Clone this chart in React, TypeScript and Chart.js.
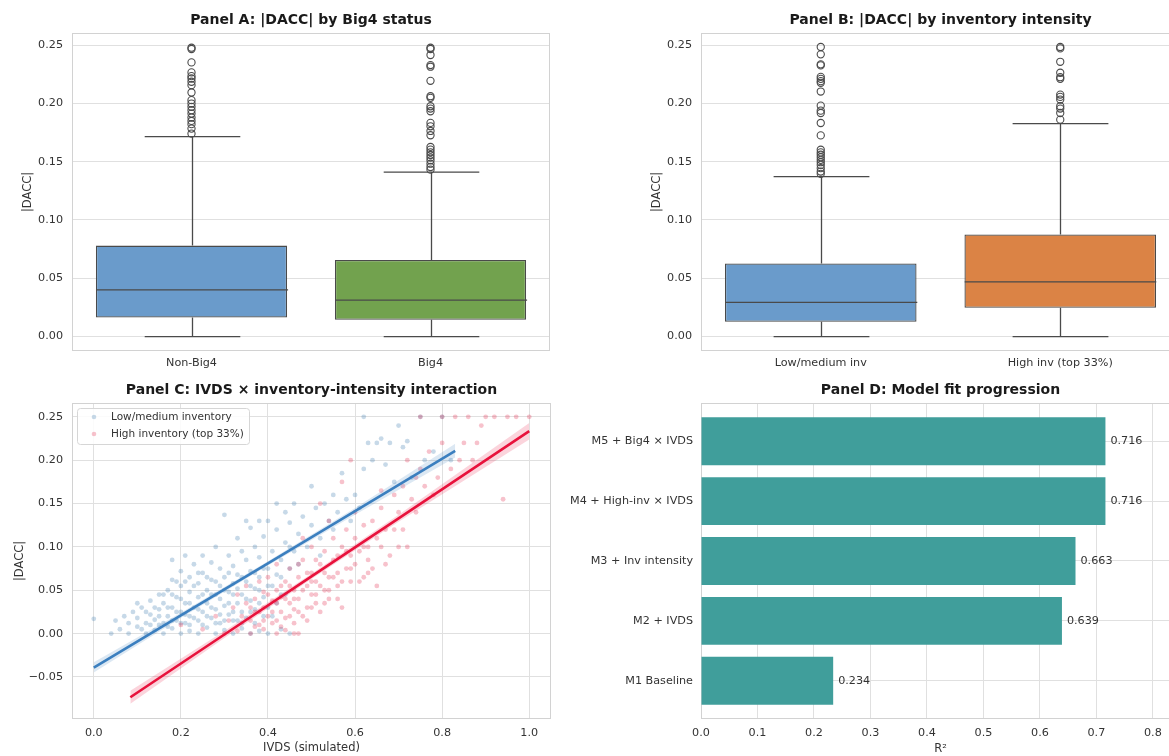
import React, { useEffect, useRef } from 'react';
import Chart from 'chart.js/auto';

const FONT = '"DejaVu Sans", "Liberation Sans", sans-serif';
const TEXT = '#333333';
const GRID = '#e0e0e0';
const SPINE = '#d2d2d2';
const BOX_LINE = '#4a4a4a';

Chart.defaults.font.family = FONT;
Chart.defaults.color = TEXT;

// ---------- Panel A: |DACC| by Big4 status ----------
const bigLabels = ['Non-Big4', 'Big4'];
const bigWhiskerLow = [0, 0];
const bigQ1 = [0.0163, 0.0143];
const bigMedian = [0.0401, 0.0312];
const bigQ3 = [0.078, 0.0657];
const bigWhiskerHigh = [0.1714, 0.141];
const bigColors = ['#6a9bcb', '#72a24e'];
const nonBig4Outliers = [0.2477, 0.2466, 0.2351, 0.2265, 0.2233, 0.2213, 0.2185, 0.2156, 0.2093, 0.2027, 0.1998, 0.197, 0.1941, 0.1912, 0.1878, 0.1849, 0.1821, 0.1783, 0.174];
const big4Outliers = [0.2477, 0.2466, 0.2414, 0.2328, 0.2314, 0.2193, 0.2061, 0.2047, 0.1975, 0.1955, 0.1932, 0.1832, 0.1803, 0.1763, 0.1726, 0.1626, 0.1603, 0.158, 0.1557, 0.1534, 0.1511, 0.1482, 0.1454, 0.1431];

// ---------- Panel B: |DACC| by inventory intensity ----------
const invLabels = ['Low/medium inv', 'High inv (top 33%)'];
const invWhiskerLow = [0, 0];
const invQ1 = [0.0126, 0.0247];
const invMedian = [0.0293, 0.0468];
const invQ3 = [0.0626, 0.0875];
const invWhiskerHigh = [0.1372, 0.1825];
const invColors = ['#6a9bcb', '#db8345'];
const lowInvOutliers = [0.2483, 0.242, 0.2334, 0.2325, 0.2227, 0.221, 0.219, 0.2176, 0.2101, 0.198, 0.1937, 0.1917, 0.1831, 0.1725, 0.1602, 0.1579, 0.1559, 0.1538, 0.1515, 0.1495, 0.1472, 0.1444, 0.1415, 0.1395];
const highInvOutliers = [0.2483, 0.2471, 0.2356, 0.2262, 0.2224, 0.221, 0.2075, 0.2055, 0.2032, 0.1975, 0.1955, 0.1917, 0.186];

const boxTicks = [0, 0.05, 0.1, 0.15, 0.2, 0.25];

// ---------- Panel C: IVDS x inventory-intensity interaction ----------
const lowInvPoints: [number, number][] = [
  [0.0, 0.017], [0.04, 0.0], [0.06, 0.005], [0.08, 0.0], [0.1, 0.008], [0.12, 0.0], [0.14, 0.004], [0.16, 0.0],
  [0.18, 0.006], [0.2, 0.0], [0.22, 0.003], [0.24, 0.0], [0.26, 0.007], [0.28, 0.0], [0.3, 0.004], [0.32, 0.0],
  [0.34, 0.006], [0.36, 0.0], [0.38, 0.003], [0.4, 0.0], [0.43, 0.005], [0.45, 0.0],
  [0.05, 0.015], [0.07, 0.02], [0.09, 0.025], [0.1, 0.018], [0.11, 0.03], [0.12, 0.012], [0.13, 0.022], [0.13, 0.038],
  [0.14, 0.016], [0.15, 0.028], [0.15, 0.045], [0.16, 0.012], [0.16, 0.035], [0.17, 0.02], [0.17, 0.05], [0.18, 0.03],
  [0.18, 0.062], [0.18, 0.085], [0.19, 0.015], [0.19, 0.042], [0.2, 0.025], [0.2, 0.055], [0.2, 0.072], [0.21, 0.012],
  [0.21, 0.035], [0.21, 0.09], [0.22, 0.02], [0.22, 0.048], [0.22, 0.065], [0.23, 0.03], [0.23, 0.08], [0.24, 0.015],
  [0.24, 0.042], [0.24, 0.058], [0.25, 0.025], [0.25, 0.07], [0.25, 0.09], [0.26, 0.035], [0.26, 0.05], [0.27, 0.018],
  [0.27, 0.062], [0.27, 0.082], [0.28, 0.028], [0.28, 0.045], [0.28, 0.1], [0.29, 0.012], [0.29, 0.055], [0.29, 0.075],
  [0.3, 0.032], [0.3, 0.065], [0.3, 0.137], [0.31, 0.022], [0.31, 0.048], [0.31, 0.09], [0.32, 0.015], [0.32, 0.058],
  [0.32, 0.078], [0.33, 0.035], [0.33, 0.068], [0.33, 0.11], [0.34, 0.025], [0.34, 0.045], [0.34, 0.095], [0.35, 0.018],
  [0.35, 0.06], [0.35, 0.085], [0.36, 0.038], [0.36, 0.072], [0.36, 0.122], [0.37, 0.028], [0.37, 0.052], [0.37, 0.1],
  [0.38, 0.065], [0.38, 0.088], [0.39, 0.042], [0.39, 0.112], [0.4, 0.03], [0.4, 0.075], [0.4, 0.13], [0.41, 0.055],
  [0.41, 0.095], [0.42, 0.068], [0.42, 0.12], [0.43, 0.045], [0.43, 0.085], [0.44, 0.105], [0.44, 0.14], [0.45, 0.075],
  [0.45, 0.128], [0.46, 0.095], [0.46, 0.15], [0.47, 0.115], [0.48, 0.135], [0.49, 0.1], [0.5, 0.17], [0.5, 0.125],
  [0.51, 0.145], [0.52, 0.11], [0.53, 0.15], [0.54, 0.13], [0.55, 0.16], [0.56, 0.14], [0.57, 0.185], [0.58, 0.155],
  [0.59, 0.13], [0.6, 0.16], [0.61, 0.145], [0.62, 0.25], [0.62, 0.19], [0.63, 0.22], [0.64, 0.2], [0.65, 0.22],
  [0.66, 0.225], [0.67, 0.195], [0.68, 0.22], [0.69, 0.175], [0.7, 0.24], [0.71, 0.215], [0.72, 0.222], [0.73, 0.18],
  [0.75, 0.25], [0.76, 0.2], [0.78, 0.21], [0.8, 0.25], [0.82, 0.2], [0.55, 0.12], [0.52, 0.09], [0.47, 0.08],
  [0.42, 0.15], [0.38, 0.13], [0.35, 0.13],
  [0.08, 0.012], [0.1, 0.035], [0.11, 0.005], [0.12, 0.025], [0.13, 0.01], [0.14, 0.03], [0.15, 0.01], [0.15, 0.02],
  [0.16, 0.045], [0.17, 0.008], [0.17, 0.03], [0.18, 0.015], [0.18, 0.045], [0.19, 0.025], [0.19, 0.06], [0.2, 0.012],
  [0.2, 0.04], [0.21, 0.022], [0.21, 0.06], [0.22, 0.01], [0.22, 0.035], [0.23, 0.018], [0.23, 0.055], [0.24, 0.028],
  [0.24, 0.07], [0.25, 0.01], [0.25, 0.045], [0.26, 0.02], [0.26, 0.065], [0.27, 0.03], [0.27, 0.045], [0.28, 0.012],
  [0.28, 0.06], [0.29, 0.022], [0.29, 0.04], [0.3, 0.015], [0.3, 0.05], [0.31, 0.035], [0.31, 0.07], [0.32, 0.025],
  [0.32, 0.045], [0.33, 0.015], [0.33, 0.052], [0.34, 0.065], [0.34, 0.012], [0.35, 0.04], [0.36, 0.025], [0.36, 0.055],
  [0.37, 0.07], [0.37, 0.012], [0.38, 0.035], [0.38, 0.05], [0.39, 0.02], [0.39, 0.075], [0.4, 0.055], [0.41, 0.02],
  [0.42, 0.035], [0.43, 0.065], [0.44, 0.045], [0.45, 0.1],
];
const highInvPoints: [number, number][] = [
  [0.3, 0.0], [0.33, 0.003], [0.36, 0.0], [0.39, 0.005], [0.42, 0.0], [0.44, 0.004], [0.46, 0.0], [0.47, 0.0],
  [0.2, 0.01], [0.25, 0.005], [0.28, 0.02], [0.31, 0.015], [0.32, 0.03], [0.33, 0.045], [0.34, 0.02], [0.35, 0.035],
  [0.35, 0.055], [0.36, 0.015], [0.37, 0.04], [0.37, 0.025], [0.38, 0.06], [0.38, 0.01], [0.39, 0.03], [0.39, 0.048],
  [0.4, 0.02], [0.4, 0.065], [0.41, 0.038], [0.41, 0.012], [0.42, 0.05], [0.42, 0.08], [0.43, 0.025], [0.43, 0.042],
  [0.44, 0.06], [0.44, 0.018], [0.45, 0.035], [0.45, 0.075], [0.46, 0.05], [0.46, 0.028], [0.47, 0.065], [0.47, 0.04],
  [0.48, 0.02], [0.48, 0.085], [0.49, 0.055], [0.49, 0.03], [0.5, 0.045], [0.5, 0.07], [0.5, 0.1], [0.51, 0.035],
  [0.51, 0.06], [0.52, 0.08], [0.52, 0.025], [0.53, 0.05], [0.53, 0.095], [0.54, 0.065], [0.54, 0.04], [0.55, 0.085],
  [0.55, 0.11], [0.56, 0.055], [0.56, 0.07], [0.57, 0.1], [0.57, 0.03], [0.58, 0.075], [0.58, 0.12], [0.59, 0.09],
  [0.59, 0.06], [0.6, 0.11], [0.6, 0.08], [0.6, 0.14], [0.61, 0.095], [0.62, 0.065], [0.62, 0.125], [0.63, 0.1],
  [0.63, 0.085], [0.64, 0.075], [0.64, 0.13], [0.65, 0.11], [0.65, 0.055], [0.66, 0.145], [0.67, 0.12], [0.68, 0.09],
  [0.69, 0.16], [0.7, 0.14], [0.7, 0.1], [0.71, 0.17], [0.72, 0.1], [0.72, 0.2], [0.73, 0.155], [0.74, 0.18],
  [0.75, 0.25], [0.75, 0.19], [0.77, 0.21], [0.78, 0.16], [0.8, 0.22], [0.8, 0.25], [0.82, 0.19], [0.83, 0.25],
  [0.85, 0.22], [0.86, 0.25], [0.87, 0.2], [0.88, 0.22], [0.9, 0.25], [0.92, 0.25], [0.94, 0.155], [0.95, 0.25],
  [0.97, 0.25], [1.0, 0.25], [0.57, 0.175], [0.54, 0.13], [0.48, 0.11], [0.66, 0.165], [0.59, 0.2], [0.52, 0.15],
  [0.36, 0.03], [0.37, 0.008], [0.38, 0.025], [0.39, 0.015], [0.4, 0.045], [0.41, 0.025], [0.42, 0.035], [0.42, 0.015],
  [0.43, 0.055], [0.43, 0.008], [0.44, 0.04], [0.45, 0.02], [0.45, 0.055], [0.46, 0.012], [0.46, 0.04], [0.47, 0.025],
  [0.47, 0.08], [0.48, 0.05], [0.49, 0.015], [0.49, 0.07], [0.5, 0.03], [0.5, 0.06], [0.51, 0.045], [0.51, 0.085],
  [0.52, 0.055], [0.53, 0.035], [0.53, 0.07], [0.54, 0.05], [0.55, 0.065], [0.56, 0.09], [0.56, 0.04], [0.57, 0.06],
  [0.58, 0.095], [0.59, 0.075], [0.61, 0.06], [0.62, 0.1], [0.63, 0.07], [0.66, 0.1], [0.67, 0.08], [0.69, 0.12],
  [0.71, 0.12], [0.74, 0.14], [0.76, 0.17], [0.79, 0.18], [0.84, 0.2], [0.89, 0.24],
];
const lowFitX = [0, 0.2, 0.4, 0.6, 0.83];
const lowFitY = [-0.0393, 0.0209, 0.081, 0.1413, 0.2108];
const lowBandUpper = [-0.033, 0.024, 0.0835, 0.145, 0.219];
const lowBandLower = [-0.045, 0.018, 0.0785, 0.137, 0.203];
const highFitX = [0.084, 0.3, 0.5, 0.7, 1.0];
const highFitY = [-0.0734, -0.001, 0.066, 0.133, 0.2335];
const highBandUpper = [-0.066, 0.003, 0.069, 0.137, 0.243];
const highBandLower = [-0.081, -0.005, 0.063, 0.129, 0.224];
const scatterXTicks = [0, 0.2, 0.4, 0.6, 0.8, 1.0];
const scatterYTicks = [-0.05, 0, 0.05, 0.1, 0.15, 0.2, 0.25];
const legendLabels = ['Low/medium inventory', 'High inventory (top 33%)'];

// ---------- Panel D: Model fit progression ----------
const modelLabels = ['M1 Baseline', 'M2 + IVDS', 'M3 + Inv intensity', 'M4 + High-inv \u00d7 IVDS', 'M5 + Big4 \u00d7 IVDS'];
const modelR2 = [0.234, 0.639, 0.663, 0.716, 0.716];
const r2Ticks = [0, 0.1, 0.2, 0.3, 0.4, 0.5, 0.6, 0.7, 0.8];

const LOW_PT = 'rgba(70,130,180,0.3)';
const HIGH_PT = 'rgba(225,30,65,0.27)';
const LOW_LINE = '#3b7fbf';
const HIGH_LINE = '#e8123c';

const tickFont = { size: 11.2 };
const labelFont = { size: 11.5 };

function titlePlugin(text: string) {
  return {
    id: 'panelTitle',
    afterDraw(chart: any) {
      const { ctx, chartArea } = chart;
      ctx.save();
      ctx.font = `bold 14px ${FONT}`;
      ctx.fillStyle = '#1a1a1a';
      ctx.textAlign = 'center';
      ctx.textBaseline = 'middle';
      ctx.fillText(text, (chartArea.left + chartArea.right) / 2, chartArea.top - 13);
      ctx.restore();
    },
  };
}

const framePlugin = {
  id: 'frame',
  beforeDatasetsDraw(chart: any) {
    const { ctx, chartArea: a } = chart;
    ctx.save();
    ctx.strokeStyle = SPINE;
    ctx.lineWidth = 1;
    ctx.strokeRect(Math.round(a.left) + 0.5, Math.round(a.top) + 0.5, Math.round(a.right - a.left) - 1, Math.round(a.bottom - a.top) - 1);
    ctx.restore();
  },
};

function boxPlugin(low: number[], q1: number[], med: number[], q3: number[], high: number[]) {
  return {
    id: 'boxWhiskers',
    afterDatasetsDraw(chart: any) {
      const { ctx } = chart;
      const x = chart.scales.x;
      const y = chart.scales.y;
      const step = x.getPixelForValue(1) - x.getPixelForValue(0);
      ctx.save();
      ctx.strokeStyle = BOX_LINE;
      ctx.lineWidth = 1.3;
      for (let i = 0; i < low.length; i++) {
        const cx = Math.round(x.getPixelForValue(i)) + 0.5;
        const cap = step * 0.2;
        const half = step * 0.4;
        const yLow = y.getPixelForValue(low[i]);
        const yQ1 = y.getPixelForValue(q1[i]);
        const yMed = y.getPixelForValue(med[i]);
        const yQ3 = y.getPixelForValue(q3[i]);
        const yHigh = y.getPixelForValue(high[i]);
        ctx.beginPath();
        ctx.moveTo(cx, yQ3);
        ctx.lineTo(cx, yHigh);
        ctx.moveTo(cx - cap, yHigh);
        ctx.lineTo(cx + cap, yHigh);
        ctx.moveTo(cx, yQ1);
        ctx.lineTo(cx, yLow);
        ctx.moveTo(cx - cap, yLow);
        ctx.lineTo(cx + cap, yLow);
        ctx.moveTo(cx - half, yMed);
        ctx.lineTo(cx + half, yMed);
        ctx.stroke();
      }
      ctx.restore();
    },
  };
}

function barLabelPlugin(values: number[]) {
  return {
    id: 'barLabels',
    afterDatasetsDraw(chart: any) {
      const { ctx } = chart;
      const x = chart.scales.x;
      const y = chart.scales.y;
      ctx.save();
      ctx.font = `11.2px ${FONT}`;
      ctx.fillStyle = TEXT;
      ctx.textAlign = 'left';
      ctx.textBaseline = 'middle';
      values.forEach((v, i) => {
        ctx.fillText(v.toFixed(3), x.getPixelForValue(v) + 5, y.getPixelForValue(i));
      });
      ctx.restore();
    },
  };
}

const legendPlugin = {
  id: 'innerLegend',
  afterDraw(chart: any) {
    const { ctx, chartArea: a } = chart;
    const left = a.left + 5;
    const top = a.top + 5;
    const w = 172;
    const h = 36;
    ctx.save();
    ctx.fillStyle = 'rgba(255,255,255,0.85)';
    ctx.strokeStyle = '#d6d6d6';
    ctx.lineWidth = 1;
    ctx.beginPath();
    ctx.roundRect(left + 0.5, top + 0.5, w, h, 3);
    ctx.fill();
    ctx.stroke();
    const colors = [LOW_PT, HIGH_PT];
    ctx.font = `10.5px ${FONT}`;
    ctx.textAlign = 'left';
    ctx.textBaseline = 'middle';
    legendLabels.forEach((lbl, i) => {
      const yy = top + 9 + i * 17;
      ctx.fillStyle = colors[i];
      ctx.beginPath();
      ctx.arc(left + 17, yy, 2.3, 0, Math.PI * 2);
      ctx.fill();
      ctx.fillStyle = TEXT;
      ctx.fillText(lbl, left + 34, yy);
    });
    ctx.restore();
  },
};

function fixedTicks(values: number[]) {
  return (s: any) => {
    s.ticks = values.map((v) => ({ value: v }));
  };
}

function boxChart(
  canvas: HTMLCanvasElement,
  labels: string[],
  low: number[], q1: number[], med: number[], q3: number[], high: number[],
  colors: string[], outliers: number[][], title: string,
  yAxisWidth: number, padRight: number, yTitlePad: number
) {
  const outlierData: any[] = [];
  outliers.forEach((list, i) => list.forEach((v) => outlierData.push({ x: labels[i], y: v })));
  return new Chart(canvas, {
    type: 'bar',
    data: {
      labels,
      datasets: [
        {
          type: 'bar',
          data: labels.map((_, i) => [q1[i], q3[i]]) as any,
          backgroundColor: colors,
          borderColor: BOX_LINE,
          borderWidth: 1.3,
          borderSkipped: false,
          barPercentage: 0.8,
          categoryPercentage: 1,
        } as any,
        {
          type: 'scatter',
          data: outlierData,
          pointStyle: 'circle',
          pointRadius: 3.6,
          borderWidth: 1.1,
          borderColor: BOX_LINE,
          backgroundColor: 'rgba(0,0,0,0)',
        } as any,
      ],
    },
    options: {
      responsive: false,
      animation: false,
      layout: { padding: { top: 33, right: padRight, left: 0, bottom: 0 } },
      plugins: { legend: { display: false }, tooltip: { enabled: false } },
      scales: {
        x: {
          type: 'category',
          grid: { display: false, drawTicks: false },
          border: { display: false },
          ticks: { font: tickFont, padding: 5, color: TEXT },
          afterFit: (s: any) => { s.height = 27; },
        },
        y: {
          type: 'linear',
          min: -0.0124,
          max: 0.2603,
          afterBuildTicks: fixedTicks(boxTicks),
          afterFit: (s: any) => { s.width = yAxisWidth; },
          grid: { color: GRID, drawTicks: false },
          border: { display: false },
          ticks: { font: tickFont, padding: 9, color: TEXT, callback: (v: any) => Number(v).toFixed(2) },
          title: { display: true, text: '|DACC|', font: labelFont, color: TEXT, padding: { top: yTitlePad, bottom: 0 } },
        },
      },
    } as any,
    plugins: [framePlugin, boxPlugin(low, q1, med, q3, high), titlePlugin(title)],
  });
}

export default function App() {
  const refA = useRef<HTMLCanvasElement>(null);
  const refB = useRef<HTMLCanvasElement>(null);
  const refC = useRef<HTMLCanvasElement>(null);
  const refD = useRef<HTMLCanvasElement>(null);

  useEffect(() => {
    const charts: Chart[] = [];
    charts.push(
      boxChart(refA.current!, bigLabels, bigWhiskerLow, bigQ1, bigMedian, bigQ3, bigWhiskerHigh, bigColors,
        [nonBig4Outliers, big4Outliers], 'Panel A: |DACC| by Big4 status', 72, 30, 21)
    );
    charts.push(
      boxChart(refB.current!, invLabels, invWhiskerLow, invQ1, invMedian, invQ3, invWhiskerHigh, invColors,
        [lowInvOutliers, highInvOutliers], 'Panel B: |DACC| by inventory intensity', 121, 20, 70)
    );

    const toXY = (pts: [number, number][]) => pts.map(([x, y]) => ({ x, y }));
    const zipXY = (xs: number[], ys: number[]) => xs.map((x, i) => ({ x, y: ys[i] }));

    charts.push(
      new Chart(refC.current!, {
        type: 'scatter',
        data: {
          datasets: [
            { type: 'line', data: zipXY(highFitX, highFitY), borderColor: HIGH_LINE, borderWidth: 2.6, pointRadius: 0, fill: false },
            { type: 'line', data: zipXY(lowFitX, lowFitY), borderColor: LOW_LINE, borderWidth: 2.6, pointRadius: 0, fill: false },
            { type: 'line', data: zipXY(highFitX, highBandUpper), borderWidth: 0, pointRadius: 0, backgroundColor: 'rgba(232,18,60,0.18)', fill: '+1' },
            { type: 'line', data: zipXY(highFitX, highBandLower), borderWidth: 0, pointRadius: 0, fill: false },
            { type: 'line', data: zipXY(lowFitX, lowBandUpper), borderWidth: 0, pointRadius: 0, backgroundColor: 'rgba(59,127,191,0.18)', fill: '+1' },
            { type: 'line', data: zipXY(lowFitX, lowBandLower), borderWidth: 0, pointRadius: 0, fill: false },
            { data: toXY(highInvPoints), pointRadius: 2.4, borderWidth: 0, backgroundColor: HIGH_PT },
            { data: toXY(lowInvPoints), pointRadius: 2.4, borderWidth: 0, backgroundColor: LOW_PT },
          ] as any,
        },
        options: {
          responsive: false,
          animation: false,
          layout: { padding: { top: 25, right: 29, left: 0, bottom: 0 } },
          plugins: { legend: { display: false }, tooltip: { enabled: false } },
          scales: {
            x: {
              type: 'linear',
              min: -0.05,
              max: 1.05,
              afterBuildTicks: fixedTicks(scatterXTicks),
              afterFit: (s: any) => { s.height = 37; },
              grid: { color: GRID, drawTicks: false },
              border: { display: false },
              ticks: { font: tickFont, padding: 7, color: TEXT, callback: (v: any) => Number(v).toFixed(1) },
              title: { display: true, text: 'IVDS (simulated)', font: labelFont, color: TEXT, padding: { top: 0, bottom: 1 } },
            },
            y: {
              type: 'linear',
              min: -0.0985,
              max: 0.266,
              afterBuildTicks: fixedTicks(scatterYTicks),
              afterFit: (s: any) => { s.width = 72; },
              grid: { color: GRID, drawTicks: false },
              border: { display: false },
              ticks: {
                font: tickFont, padding: 9, color: TEXT,
                callback: (v: any) => (Number(v) < 0 ? '\u2212' + Math.abs(Number(v)).toFixed(2) : Number(v).toFixed(2)),
              },
              title: { display: true, text: '|DACC|', font: labelFont, color: TEXT, padding: { top: 13, bottom: 0 } },
            },
          },
        } as any,
        plugins: [framePlugin, titlePlugin('Panel C: IVDS \u00d7 inventory-intensity interaction'), legendPlugin],
      })
    );

    charts.push(
      new Chart(refD.current!, {
        type: 'bar',
        data: {
          datasets: [
            {
              data: modelR2.map((v, i) => ({ x: v, y: i })),
              backgroundColor: '#409e9b',
              barPercentage: 0.8,
              categoryPercentage: 1,
              borderWidth: 0,
            },
          ] as any,
        },
        options: {
          indexAxis: 'y',
          responsive: false,
          animation: false,
          layout: { padding: { top: 25, right: 0, left: 0, bottom: 0 } },
          plugins: { legend: { display: false }, tooltip: { enabled: false } },
          scales: {
            x: {
              type: 'linear',
              min: 0,
              max: 0.848,
              offset: false,
              afterBuildTicks: fixedTicks(r2Ticks),
              afterFit: (s: any) => { s.height = 37; },
              grid: { color: GRID, drawTicks: false, offset: false },
              border: { display: false },
              ticks: { font: tickFont, padding: 7, color: TEXT, callback: (v: any) => Number(v).toFixed(1) },
              title: { display: true, text: 'R\u00b2', font: labelFont, color: TEXT, padding: { top: 0, bottom: 0 } },
            },
            y: {
              type: 'linear',
              min: -0.64,
              max: 4.64,
              offset: false,
              afterBuildTicks: fixedTicks([0, 1, 2, 3, 4]),
              afterFit: (s: any) => { s.width = 161; },
              grid: { color: GRID, drawTicks: false, offset: false },
              border: { display: false },
              ticks: { font: tickFont, padding: 8, color: TEXT, callback: (v: any) => modelLabels[Number(v)] ?? '' },
            },
          },
        } as any,
        plugins: [framePlugin, titlePlugin('Panel D: Model fit progression'), barLabelPlugin(modelR2)],
      })
    );

    return () => charts.forEach((c) => c.destroy());
  }, []);

  const abs = (left: number, top: number): React.CSSProperties => ({ position: 'absolute', left, top });

  return (
    <div style={{ position: 'fixed', left: 0, top: 0, width: 1169, height: 756, overflow: 'hidden', background: '#ffffff' }}>
      <canvas ref={refA} width={580} height={378} style={abs(0, 0)} />
      <canvas ref={refB} width={620} height={378} style={abs(580, 0)} />
      <canvas ref={refC} width={580} height={378} style={abs(0, 378)} />
      <canvas ref={refD} width={640} height={378} style={abs(540, 378)} />
    </div>
  );
}
